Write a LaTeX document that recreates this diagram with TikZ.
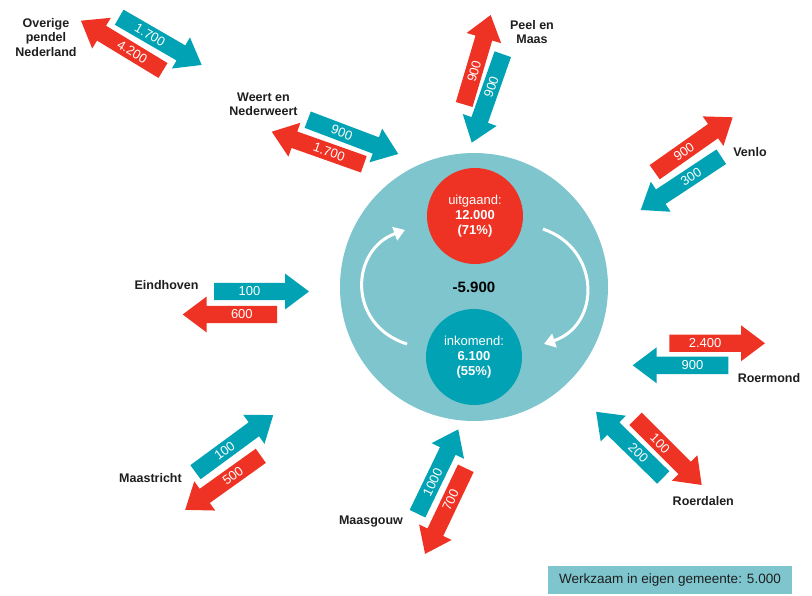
\documentclass[tikz,border=0pt]{standalone}
\usepackage{fontspec}
\setmainfont{Liberation Sans}
\usetikzlibrary{arrows.meta}
\definecolor{cred}{RGB}{238,50,36}
\definecolor{cteal}{RGB}{0,162,179}
\definecolor{clight}{RGB}{126,197,206}
\definecolor{cdark}{RGB}{30,30,30}
\tikzset{
  numtxt/.style={text=white,inner sep=0pt,font=\fontsize{13}{13}\selectfont},
  lbl/.style={text=cdark,inner sep=0pt,align=center,font=\bfseries\fontsize{12.5}{14.5}\selectfont},
  cyc/.style={white,line width=3pt,-{Triangle[length=11pt,width=14pt]}},
  disc/.style={circle,inner sep=0pt,minimum size=96pt,text=white,align=center,font=\fontsize{13}{15}\selectfont}
}
% #1 name, #2 #3 tail centre (px), #4 #5 tip (px), #6 colour, #7 text
\newcommand\barrow[7]{%
  \pgfmathsetmacro\bdx{#4-#2}%
  \pgfmathsetmacro\bdy{#3-#5}%
  \pgfmathsetmacro\bang{atan2(\bdy,\bdx)}%
  \pgfmathsetmacro\blen{veclen(\bdx,\bdy)}%
  \pgfmathsetmacro\btang{ifthenelse(\bang>90,\bang-180,ifthenelse(\bang<=-90,\bang+180,\bang))}%
  \pgfmathsetmacro\bbase{\blen-24}%
  \pgfmathsetmacro\bmid{\bbase/2}%
  \begin{scope}[shift={(#2,#3)},rotate=\bang]
    \fill[#6] (0,-8.7) -- (\bbase,-8.7) -- (\bbase,-18) -- (\blen,0) -- (\bbase,18) -- (\bbase,8.7) -- (0,8.7) -- cycle;
    \node[numtxt,rotate=\btang] (#1) at (\bmid,0) {#7};
  \end{scope}}
\begin{document}
\begin{tikzpicture}[x=1pt,y=-1pt]
\useasboundingbox (0,0) rectangle (812,596);
% central disc
\node[circle,fill=clight,minimum size=268pt,inner sep=0pt] (big) at (474,287) {};
\node[disc,fill=cred] (out) at (475,216) {uitgaand:\\\textbf{12.000}\\\textbf{(71\%)}};
\node[disc,fill=cteal] (in) at (474,357) {inkomend:\\\textbf{6.100}\\\textbf{(55\%)}};
\node[text=black,inner sep=0pt,font=\bfseries\fontsize{15}{15}\selectfont] (net) at (474,287) {-5.900};
\coordinate (la) at (407,344); \coordinate (lb) at (405,230);
\coordinate (ra) at (543,229); \coordinate (rb) at (544,344);
\draw[cyc] (la) .. controls (347,325) and (350,250) .. (lb);
\draw[cyc] (ra) .. controls (601,249) and (601,325) .. (rb);
% arrows
\barrow{ovIn}{119.2}{17.2}{201.7}{65}{cteal}{1.700}
\barrow{ovOut}{163}{70.5}{81}{20.7}{cred}{4.200}
\barrow{weIn}{307.7}{119.7}{398.3}{154}{cteal}{900}
\barrow{weOut}{363.8}{164.3}{271.7}{131.7}{cred}{1.700}
\barrow{pmOut}{464.2}{104.5}{490.7}{15}{cred}{900}
\barrow{pmIn}{502.8}{54.2}{471.7}{142.7}{cteal}{900}
\barrow{veOut}{654.7}{172.2}{732.7}{117.3}{cred}{900}
\barrow{veIn}{721.3}{156.7}{640.7}{210}{cteal}{300}
\barrow{eiIn}{214}{291.5}{309}{291.5}{cteal}{100}
\barrow{eiOut}{277}{314.5}{182.7}{314.5}{cred}{600}
\barrow{roOut}{669.3}{343.3}{765}{343.3}{cred}{2.400}
\barrow{roIn}{728.3}{365.3}{632.7}{365.3}{cteal}{900}
\barrow{rdIn}{663.3}{477.5}{596}{411.7}{cteal}{200}
\barrow{rdOut}{635.5}{418.8}{701.7}{485}{cred}{100}
\barrow{mgIn}{417.5}{513.7}{458.3}{429.3}{cteal}{1000}
\barrow{mgOut}{465.8}{468.3}{425}{554}{cred}{700}
\barrow{mtIn}{195.5}{472.2}{273.3}{415}{cteal}{100}
\barrow{mtOut}{260.8}{455.8}{185}{510}{cred}{500}
% labels
\node[lbl] (ov) at (46,37.5) {Overige\\pendel\\Nederland};
\node[lbl] (we) at (263.5,104.5) {Weert en\\Nederweert};
\node[lbl] (pm) at (532,32) {Peel en\\Maas};
\node[lbl] (ve) at (750,152.5) {Venlo};
\node[lbl] (ei) at (166.5,285) {Eindhoven};
\node[lbl] (ro) at (769,378) {Roermond};
\node[lbl] (rd) at (703.3,501.5) {Roerdalen};
\node[lbl] (mg) at (371,522) {Maasgouw};
\node[lbl] (mt) at (150.5,478) {Maastricht};
% own municipality box
\node[fill=clight,minimum width=244pt,minimum height=28pt,inner sep=0pt,text=cdark,font=\fontsize{13.5}{13.5}\selectfont] (own) at (670,580) {Werkzaam in eigen gemeente: 5.000};
\end{tikzpicture}
\end{document}
